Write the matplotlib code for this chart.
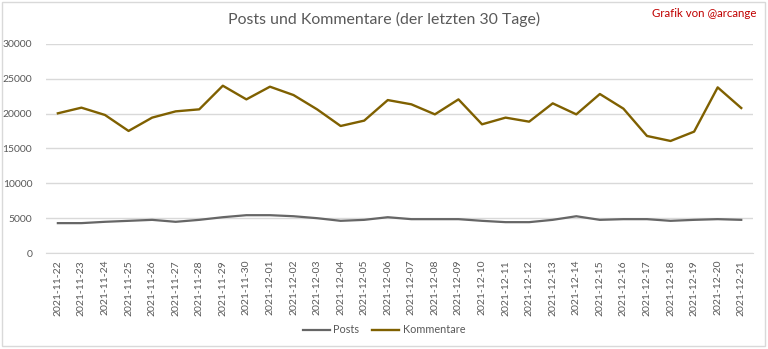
import matplotlib
matplotlib.use("Agg")
import matplotlib.pyplot as plt
from matplotlib.patches import Rectangle

dates = ["2021-11-22", "2021-11-23", "2021-11-24", "2021-11-25", "2021-11-26", "2021-11-27",
         "2021-11-28", "2021-11-29", "2021-11-30", "2021-12-01", "2021-12-02", "2021-12-03",
         "2021-12-04", "2021-12-05", "2021-12-06", "2021-12-07", "2021-12-08", "2021-12-09",
         "2021-12-10", "2021-12-11", "2021-12-12", "2021-12-13", "2021-12-14", "2021-12-15",
         "2021-12-16", "2021-12-17", "2021-12-18", "2021-12-19", "2021-12-20", "2021-12-21"]

posts = [4290, 4290, 4480, 4620, 4760, 4480, 4760, 5140, 5430, 5430, 5280, 5000,
         4620, 4760, 5140, 4860, 4860, 4860, 4620, 4430, 4430, 4760, 5280, 4760,
         4860, 4860, 4620, 4760, 4860, 4760]

kommentare = [20050, 20860, 19810, 17520, 19430, 20330, 20620, 24010, 22050, 23870, 22670, 20620,
              18230, 19000, 21950, 21340, 19900, 22050, 18470, 19430, 18850, 21480, 19900, 22820,
              20720, 16800, 16080, 17420, 23770, 20810]

yticks = [0, 5000, 10000, 15000, 20000, 25000, 30000]

plt.rcParams['font.family'] = ['Lato', 'DejaVu Sans']

fig = plt.figure(figsize=(7.68, 3.49), dpi=100)
fig.patch.set_facecolor("white")
fig.add_artist(Rectangle((0.002, 0.01), 0.994, 0.985, transform=fig.transFigure,
                         fill=False, edgecolor="#D9D9D9", linewidth=1))

ax = fig.add_axes([0.06, 0.275, 0.9205, 0.599])
x = list(range(len(dates)))
ax.plot(x, posts, color="#666666", linewidth=1.6, label="Posts")
ax.plot(x, kommentare, color="#7F6000", linewidth=1.7, label="Kommentare")

ax.set_xlim(-0.5, len(dates) - 0.5)
ax.set_ylim(0, 30000)
ax.set_yticks(yticks)
ax.set_yticklabels([str(v) for v in yticks])
ax.set_xticks(x)
ax.set_xticklabels(dates, rotation=90)
ax.tick_params(axis="both", length=0, colors="#595959", labelsize=7.5)
ax.tick_params(axis="y", pad=10)
ax.tick_params(axis="x", pad=5)
ax.grid(axis="y", color="#D9D9D9", linewidth=1)
ax.set_axisbelow(True)
for s in ["top", "right", "left"]:
    ax.spines[s].set_visible(False)
ax.spines["bottom"].set_color("#D9D9D9")

fig.text(0.5, 0.945, "Posts und Kommentare (der letzten 30 Tage)", ha="center", va="center",
         fontsize=11.4, color="#595959")
fig.text(0.985, 0.962, "Grafik von @arcange", ha="right", va="center",
         fontsize=8.3, color="#C00000")

fig.legend(loc="center", bbox_to_anchor=(0.5, 0.055), ncol=2, frameon=False,
           fontsize=7.8, labelcolor="#595959", handlelength=2.5, columnspacing=1.2,
           handletextpad=0.3)

fig.savefig("out.png", dpi=100)
